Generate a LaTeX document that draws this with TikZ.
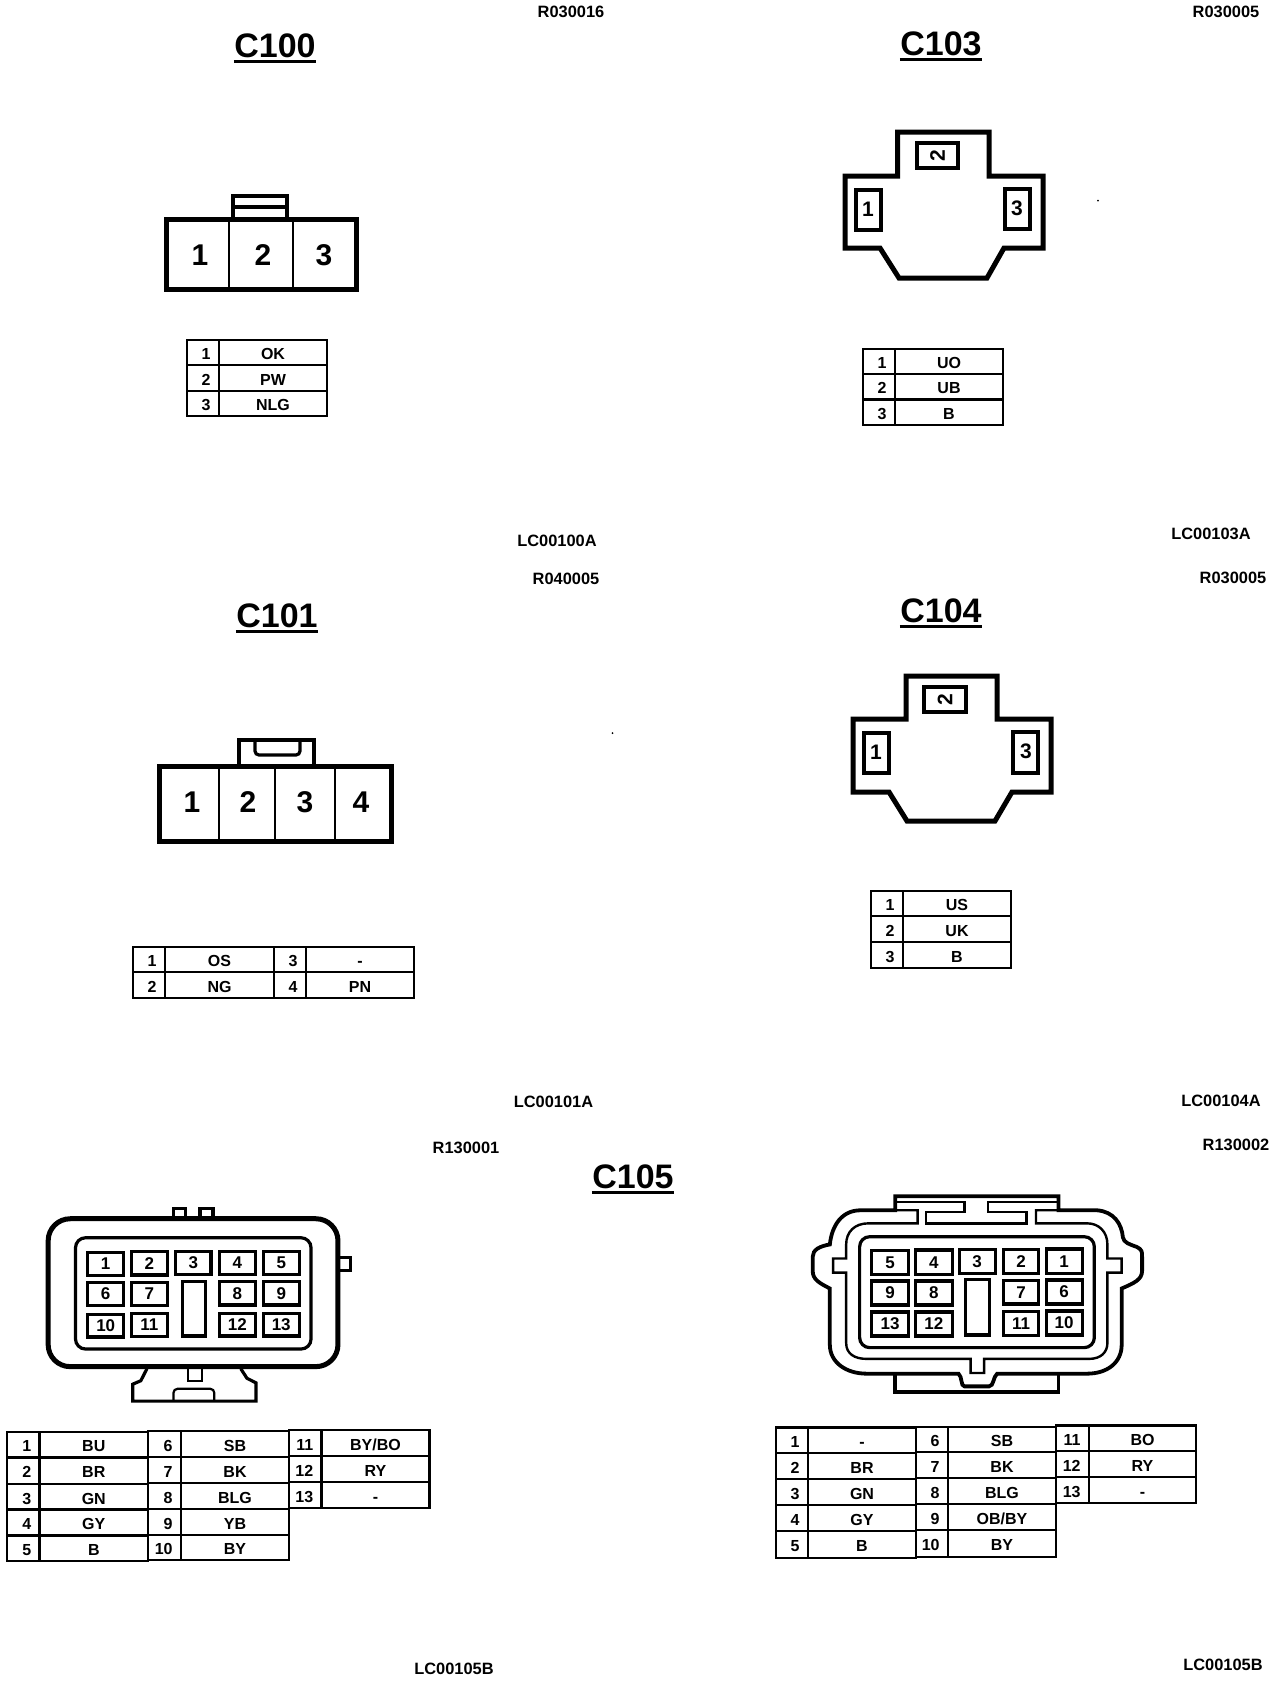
\documentclass[tikz,border=0pt]{standalone}
\usepackage{fontspec}
\setmainfont{Liberation Sans}
\newcommand\FontPx[1]{\fontsize{#1}{#1}\selectfont\bfseries}
\tikzset{
  heavy/.style={line width=2.5pt,line join=miter,line cap=butt},
  medline/.style={line width=1.6pt},
  divline/.style={line width=1.1pt},
  cellline/.style={line width=1.2pt},
  cornerlab/.style={inner sep=0pt,font=\FontPx{8.2}},
  titlelab/.style={inner sep=0pt,text height=.72em,text depth=0pt,font=\FontPx{17}},
  ul/.style={line width=1.7pt},
  celltext/.style={inner sep=0pt,text height=.72em,text depth=0pt,font=\FontPx{8}},
  bigdigit/.style={inner sep=0pt,font=\FontPx{15}},
  middigit/.style={inner sep=0pt,font=\FontPx{10.5}},
  pinlab/.style={inner sep=0pt,font=\FontPx{8.5}},
}
% one table row: left, split, right, top, bottom, number, value
\newcommand\Cell[7]{%
  \draw[cellline] (#1,#4) rectangle (#3,#5);
  \draw[cellline] (#2,#4) -- (#2,#5);
  \path (#2,#4) -- (#2,#5) node[midway,xshift=-4pt,anchor=east,celltext] {#6};
  \path (#2,#4) -- (#3,#5) node[midway,celltext] {#7};
}
\newcommand\Pin[5]{%
  \draw[medline] (#1,#2) rectangle (#3,#4);
  \path (#1,#2) -- (#3,#4) node[midway,pinlab] {#5};
}
\newcommand\Title[4]{%
  \node[titlelab] (#1) at (#2,#3) {#4};
  \draw[ul] ([yshift=-2pt]#1.south west) -- ([yshift=-2pt]#1.south east);
}
\begin{document}
\begin{tikzpicture}[x=0.5pt,y=-0.5pt]
\useasboundingbox (0,0) rectangle (1280,1682);
\fill[white] (0,0) rectangle (1280,1682);

% ---- corner labels
\node[cornerlab] (r1) at (571,12) {R030016};
\node[cornerlab] (r2) at (1226,12) {R030005};
\node[cornerlab] (l1) at (557,541) {LC00100A};
\node[cornerlab] (l2) at (1211,534) {LC00103A};
\node[cornerlab] (r3) at (566,579) {R040005};
\node[cornerlab] (r4) at (1233,578) {R030005};
\node[cornerlab] (l3) at (553.5,1102) {LC00101A};
\node[cornerlab] (l4) at (1221,1101) {LC00104A};
\node[cornerlab] (r5) at (466,1148) {R130001};
\node[cornerlab] (r6) at (1236,1145) {R130002};
\node[cornerlab] (l5) at (454,1669) {LC00105B};
\node[cornerlab] (l6) at (1223,1665) {LC00105B};

% ---- titles
\Title{c100}{275}{50}{C100}
\Title{c103}{941}{48}{C103}
\Title{c101}{277}{620}{C101}
\Title{c104}{941}{615}{C104}
\Title{c105}{633}{1181}{C105}

% ---- specks
\fill (1098,200.6) circle (0.5pt);
\fill (612.5,733) circle (0.5pt);

% ---- C100
\draw[line width=1.9pt] (233,219) -- (233,196) -- (287,196) -- (287,219);
\draw[medline] (233,207) -- (287,207);
\draw[heavy] (166,219) rectangle (356,289);
\draw[divline] (229,219) -- (229,289);
\draw[divline] (292.7,219) -- (292.7,289);
\node[bigdigit] at (200,255) {1};
\node[bigdigit] at (263,255) {2};
\node[bigdigit] at (324,255) {3};
\Cell{187}{219}{327}{340}{365}{1}{OK}
\Cell{187}{219}{327}{365}{390.7}{2}{PW}
\Cell{187}{219}{327}{390.7}{416}{3}{NLG}

% ---- C103
\draw[heavy] (897.7,132) -- (989,132) -- (989,176) -- (1043,176) -- (1043,248) -- (1004,248) -- (987,278) -- (899,278) -- (880,248) -- (845,248) -- (845,176) -- (897.7,176) -- cycle;
\draw[medline] (917,143) rectangle (958,168);
\node[middigit,rotate=90] at (937.5,155.5) {2};
\draw[medline] (856,190) rectangle (881,230);
\node[middigit] at (868,209.5) {1};
\draw[medline] (1005,189) rectangle (1030,229);
\node[middigit] at (1017,208.5) {3};
\Cell{863}{895}{1003}{349}{374}{1}{UO}
\Cell{863}{895}{1003}{374}{399.3}{2}{UB}
\Cell{863}{895}{1003}{399.3}{425}{3}{B}

% ---- C101
\draw[line width=1.9pt] (239,766) -- (239,740) -- (314,740) -- (314,766);
\draw[medline,rounded corners=2pt] (255,741) -- (255,755) -- (300,755) -- (300,741);
\draw[heavy] (159,766) rectangle (391,841);
\draw[divline] (219,766) -- (219,841);
\draw[divline] (275,766) -- (275,841);
\draw[divline] (335,766) -- (335,841);
\node[bigdigit] at (192,802) {1};
\node[bigdigit] at (248,802) {2};
\node[bigdigit] at (305,802) {3};
\node[bigdigit] at (361,802) {4};
\Cell{133}{165}{274}{947}{972}{1}{OS}
\Cell{133}{165}{274}{972}{998}{2}{NG}
\Cell{274}{306}{414}{947}{972}{3}{-}
\Cell{274}{306}{414}{972}{998}{4}{PN}

% ---- C104
\draw[heavy] (906,676) -- (997,676) -- (997,719) -- (1051,719) -- (1051,792) -- (1012,792) -- (995,821) -- (907,821) -- (889,792) -- (853,792) -- (853,719) -- (906,719) -- cycle;
\draw[medline] (924,687) rectangle (966,712);
\node[middigit,rotate=90] at (945,699.5) {2};
\draw[medline] (864,733) rectangle (889,773);
\node[middigit] at (876,752) {1};
\draw[medline] (1013,732) rectangle (1038,773);
\node[middigit] at (1026,751) {3};
\Cell{871}{903}{1011}{891}{916}{1}{US}
\Cell{871}{903}{1011}{916}{942}{2}{UK}
\Cell{871}{903}{1011}{942}{968}{3}{B}

% ---- C105 left connector (units: 640x552 crop as 1568x1568)
\begin{scope}[shift={(0,1130)},x=0.20408pt,y=-0.17606pt]
  \draw[heavy,rounded corners=11pt] (118,252) rectangle (828,672);
  \draw[medline,rounded corners=5pt] (185,306) rectangle (762,622);
  \draw[medline] (425,252) -- (425,222) -- (455,222) -- (455,252);
  \draw[medline] (490,250) -- (490,222) -- (522,222) -- (522,250);
  \draw[medline] (830,362) -- (858,362) -- (858,400) -- (830,400);
  \draw[line width=1.6pt] (360,678) -- (345,712) -- (325,722) -- (325,770) -- (627,770) -- (627,718) -- (605,705) -- (590,678);
  \draw[divline] (460,678) -- (460,712) -- (495,712) -- (495,678);
  \draw[divline,rounded corners=2pt] (425,770) -- (425,735) -- (525,735) -- (525,770);
  \Pin{215}{347}{303}{414}{1}
  \Pin{322}{345}{410}{412}{2}
  \Pin{430}{345}{517}{410}{3}
  \Pin{538}{345}{625}{410}{4}
  \Pin{645}{345}{733}{410}{5}
  \Pin{215}{433}{303}{498}{6}
  \Pin{322}{433}{410}{498}{7}
  \Pin{538}{430}{625}{497}{8}
  \Pin{645}{430}{733}{497}{9}
  \Pin{215}{523}{303}{588}{10}
  \Pin{322}{521}{410}{587}{11}
  \Pin{538}{521}{625}{585}{12}
  \Pin{645}{520}{733}{585}{13}
  \draw[medline] (447,430) rectangle (503,585);
\end{scope}

% ---- C105 right connector
\begin{scope}[shift={(638,1130)},x=0.20408pt,y=-0.17606pt]
  \draw[line width=1.9pt] (630,228) -- (630,188) -- (1030,188) -- (1030,228) -- (1125,228)
    .. controls (1165,232) and (1185,265) .. (1188,305)
    .. controls (1190,320) and (1205,325) .. (1222,332)
    .. controls (1235,340) and (1235,345) .. (1235,360) -- (1235,400)
    .. controls (1235,425) and (1215,435) .. (1185,450) -- (1185,610)
    .. controls (1185,660) and (1150,692) .. (1100,692) -- (880,692)
    .. controls (870,700) and (872,728) .. (860,728) -- (800,728)
    .. controls (790,728) and (795,700) .. (785,692) -- (560,692)
    .. controls (510,692) and (470,660) .. (470,610) -- (470,450)
    .. controls (445,435) and (428,425) .. (428,400) -- (428,360)
    .. controls (428,340) and (445,330) .. (470,325)
    .. controls (475,270) and (500,228) .. (545,228) -- cycle;
  \draw[cellline] (630,228) -- (685,228) -- (685,265) -- (565,265)
    .. controls (530,265) and (510,290) .. (510,325) -- (510,365) -- (478,365) -- (478,405) -- (510,405) -- (510,605)
    .. controls (510,635) and (530,650) .. (560,650) -- (815,650) -- (815,690) -- (848,690) -- (848,650) -- (1105,650)
    .. controls (1135,650) and (1150,630) .. (1150,605) -- (1150,405) -- (1185,405) -- (1185,365) -- (1150,365) -- (1150,325)
    .. controls (1150,290) and (1130,265) .. (1100,265) -- (975,265) -- (975,228) -- (1030,228);
  \draw[cellline] (630,205) -- (800,205) -- (800,232) -- (705,232) -- (705,265) -- (952,265) -- (952,232) -- (857,232) -- (857,205) -- (1030,205);
  \draw[line width=1.9pt] (630,692) -- (630,745) -- (1030,745) -- (1030,692);
  \draw[medline,rounded corners=5pt] (543,303) rectangle (1118,618);
  \Pin{573}{342}{662}{410}{5}
  \Pin{680}{341}{770}{410}{4}
  \Pin{787}{340}{875}{408}{3}
  \Pin{895}{339}{982}{408}{2}
  \Pin{1000}{338}{1088}{407}{1}
  \Pin{573}{429}{662}{497}{9}
  \Pin{680}{429}{770}{497}{8}
  \Pin{895}{427}{982}{494}{7}
  \Pin{1000}{426}{1088}{494}{6}
  \Pin{573}{517}{662}{585}{13}
  \Pin{680}{517}{770}{585}{12}
  \Pin{895}{515}{982}{583}{11}
  \Pin{1000}{514}{1088}{582}{10}
  \draw[medline] (803,425) rectangle (862,582);
\end{scope}

% ---- C105 left table
\Cell{7}{39.6}{148}{1432}{1457.5}{1}{BU}
\Cell{7}{39.6}{148}{1457.5}{1484}{2}{BR}
\Cell{7}{39.6}{148}{1484}{1509.6}{3}{GN}
\Cell{7}{39.6}{148}{1509.6}{1535.6}{4}{GY}
\Cell{7}{39.6}{148}{1535.6}{1561}{5}{B}
\Cell{148}{181}{289}{1431.2}{1456.7}{6}{SB}
\Cell{148}{181}{289}{1456.7}{1483.2}{7}{BK}
\Cell{148}{181}{289}{1483.2}{1508.8}{8}{BLG}
\Cell{148}{181}{289}{1508.8}{1534.8}{9}{YB}
\Cell{148}{181}{289}{1534.8}{1560.2}{10}{BY}
\Cell{289}{321.6}{429.4}{1430.2}{1455.7}{11}{BY/BO}
\Cell{289}{321.6}{429.4}{1455.7}{1482}{12}{RY}
\Cell{289}{321.6}{429.4}{1482}{1508}{13}{-}

% ---- C105 right table
\Cell{776}{808}{916}{1427.5}{1453}{1}{-}
\Cell{776}{808}{916}{1453}{1479}{2}{BR}
\Cell{776}{808}{916}{1479}{1505}{3}{GN}
\Cell{776}{808}{916}{1505}{1531}{4}{GY}
\Cell{776}{808}{916}{1531}{1558}{5}{B}
\Cell{916}{948}{1056}{1426.7}{1452.2}{6}{SB}
\Cell{916}{948}{1056}{1452.2}{1478.2}{7}{BK}
\Cell{916}{948}{1056}{1478.2}{1504.2}{8}{BLG}
\Cell{916}{948}{1056}{1504.2}{1530.2}{9}{OB/BY}
\Cell{916}{948}{1056}{1530.2}{1557}{10}{BY}
\Cell{1056}{1089}{1196}{1425.5}{1451}{11}{BO}
\Cell{1056}{1089}{1196}{1451}{1477}{12}{RY}
\Cell{1056}{1089}{1196}{1477}{1503}{13}{-}
\end{tikzpicture}
\end{document}
